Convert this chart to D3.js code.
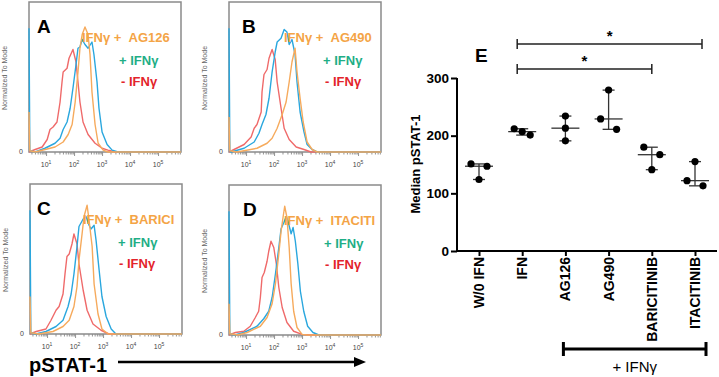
<!DOCTYPE html>
<html><head><meta charset="utf-8">
<script src="https://cdn.jsdelivr.net/npm/d3@7"></script>
<style>
body{margin:0;background:#fff}
svg{display:block}
text{font-family:"Liberation Sans",Arial,Helvetica,sans-serif}
</style>
</head><body>
<svg id="c" width="719" height="377"></svg>
<script>
// ---------- DATA ----------
// Histogram curves: [log10(pSTAT-1 intensity), % of mode]
const histA_red = [[0.39,0],[0.61,2],[0.86,4],[1.04,10],[1.14,18],[1.25,20],[1.39,24],[1.50,40],[1.57,56],[1.61,64],[1.75,67],[1.82,75],[1.96,82],[2.07,72],[2.14,56],[2.21,40],[2.32,24],[2.50,14],[2.75,7],[3.00,3],[3.21,1.5],[3.5,0],[5.82,0]];
const histA_blue = [[0.39,99],[0.42,1],[0.61,0],[0.96,3],[1.32,7],[1.50,11],[1.61,18],[1.75,24],[1.86,35],[1.96,51],[2.07,70],[2.14,83],[2.21,84],[2.29,90],[2.39,86],[2.50,83],[2.64,88],[2.71,78],[2.82,56],[2.89,35],[3.00,16],[3.18,6],[3.36,1.5],[3.57,0],[5.82,0]];
const histA_orange = [[0.39,32],[0.42,1],[0.61,0],[1.32,4],[1.61,8],[1.79,14],[1.93,22],[2.04,40],[2.14,64],[2.21,83],[2.29,94],[2.39,100],[2.50,94],[2.57,78],[2.64,48],[2.75,22],[2.86,7],[3.04,1.5],[3.21,0],[5.82,0]];

const histB_red = [[0.39,0],[0.57,2],[0.93,6],[1.18,12],[1.29,19],[1.39,22],[1.54,32],[1.57,48],[1.64,62],[1.75,66],[1.82,75],[1.93,82],[2.04,74],[2.11,56],[2.25,35],[2.36,19],[2.54,10],[2.79,4],[3.07,2],[3.32,0],[5.82,0]];
const histB_blue = [[0.39,99],[0.42,1],[0.46,0],[0.93,3],[1.29,8],[1.46,15],[1.57,22],[1.71,30],[1.82,43],[1.93,64],[2.04,80],[2.11,88],[2.25,91],[2.36,98],[2.46,96],[2.54,86],[2.64,90],[2.75,78],[2.82,56],[2.93,32],[3.07,16],[3.18,6],[3.36,2],[3.54,0],[5.82,0]];
const histB_orange = [[0.39,28],[0.42,1],[0.68,0],[1.39,3],[1.75,7],[1.93,11],[2.11,19],[2.29,30],[2.43,40],[2.54,56],[2.64,72],[2.75,83],[2.82,64],[2.93,43],[3.04,24],[3.18,8],[3.36,2],[3.54,0],[5.82,0]];

const histC_red = [[0.39,0],[0.61,2],[0.96,4],[1.14,11],[1.32,19],[1.43,22],[1.57,32],[1.64,48],[1.71,62],[1.79,64],[1.89,72],[1.96,80],[2.07,72],[2.14,56],[2.29,35],[2.43,19],[2.64,8],[2.93,3],[3.21,0],[5.82,0]];
const histC_blue = [[0.39,99],[0.42,1],[0.6,0],[0.96,2],[1.32,6],[1.57,11],[1.75,22],[1.86,32],[1.96,48],[2.07,70],[2.14,86],[2.29,92],[2.39,94],[2.50,87],[2.57,84],[2.68,87],[2.75,75],[2.86,51],[2.96,30],[3.11,14],[3.29,4],[3.46,0],[5.82,0]];
const histC_orange = [[0.39,30],[0.42,1],[0.7,0],[1.21,2],[1.57,6],[1.79,11],[1.96,22],[2.07,38],[2.14,59],[2.25,80],[2.32,94],[2.43,103],[2.50,91],[2.61,70],[2.68,40],[2.82,16],[2.96,4],[3.18,0],[5.82,0]];

const histD_red = [[0.39,0],[0.62,2],[0.92,3],[1.15,7],[1.33,14],[1.45,19],[1.51,30],[1.57,46],[1.65,50],[1.75,59],[1.81,67],[1.89,75],[1.99,70],[2.08,57],[2.17,38],[2.29,22],[2.46,10],[2.70,3],[3.00,0.5],[3.3,0],[5.82,0]];
const histD_blue = [[0.39,99],[0.42,1],[0.6,0],[0.92,2],[1.39,7],[1.63,13],[1.81,19],[1.93,30],[2.05,49],[2.17,70],[2.25,85],[2.35,90],[2.44,95],[2.52,89],[2.61,81],[2.68,86],[2.76,75],[2.85,57],[2.94,35],[3.06,19],[3.20,7],[3.39,2],[3.60,0],[5.82,0]];
const histD_orange = [[0.39,25],[0.42,1],[0.7,0],[1.04,2],[1.51,7],[1.75,14],[1.93,25],[2.05,41],[2.17,65],[2.25,83],[2.32,94],[2.38,103],[2.46,94],[2.54,70],[2.61,41],[2.70,19],[2.82,6],[3.00,0.5],[3.2,0],[5.82,0]];

const panelLetters = ["A","B","C","D"];
const panelDrugs = ["AG126","AG490","BARICI","ITACITI"];
const histDecades = [1,2,3,4,5];

// Panel E
const categories = ["W/0 IFN","IFN","AG126","AG490","BARICITINIB","ITACITINIB"];
const groupValues = [[151,147,124],[212,207,201],[234,213,191],[279,229,211],[180,167,141],[155,122,113]];
const groupJitter = [[-1,1,0],[-1,0,1],[0,0,0],[0,-1,1],[-1,1,0],[0,-1,1]];
const yTicksE = [0,100,200,300];
const comparisons = [["IFN","ITACITINIB"],["IFN","BARICITINIB"]];
const treatedGroups = ["AG126","ITACITINIB"];

// ---------- STYLE ----------
const C_RED="#ef6a6a", C_BLUE="#2aa7de", C_ORANGE="#f6aa5c";
const T_ORANGE="#f4a446", T_GREEN="#1fae86", T_RED="#e3242b";

const svg = d3.select("#c");

// ---------- HISTOGRAM PANELS ----------
const layout = [
  {x0:29, y0:2, ld:8, od:53, gd:90, rd:92},
  {x0:229, y0:2, ld:13, od:55, gd:94, rd:96},
  {x0:30, y0:184, ld:7, od:53, gd:88, rd:89},
  {x0:229, y0:185, ld:14, od:55, gd:95, rd:96}
];
const curves = [
  [histA_red,histA_blue,histA_orange],
  [histB_red,histB_blue,histB_orange],
  [histC_red,histC_blue,histC_orange],
  [histD_red,histD_blue,histD_orange]
];
const W=152, H=150;

layout.forEach((L,i)=>{
  const g = svg.append("g");
  const x = d3.scaleLinear().domain([0.39,5.82]).range([L.x0, L.x0+W]);
  const y = d3.scaleLinear().domain([0,120]).range([L.y0+H, L.y0]);
  const tv=[];
  for(let k=0;k<=5;k++) for(let m=1;m<=9;m++){const v=k+Math.log10(m); if(v>=0.42&&v<=5.8) tv.push(v);}
  const ax = g.append("g").attr("transform",`translate(0,${L.y0+H})`)
    .call(d3.axisBottom(x).tickValues(tv).tickSize(3).tickFormat(""));
  ax.select(".domain").remove();
  ax.selectAll(".tick line").attr("stroke","#777").attr("stroke-width",0.8)
    .attr("y2",d=>Math.abs(d-Math.round(d))<1e-9?4:2.5);
  const lab = g.selectAll("text.dec").data(histDecades).join("text").attr("class","dec")
    .attr("x",d=>x(d)).attr("y",L.y0+H+15).attr("text-anchor","middle")
    .attr("font-size",7).attr("fill","#444");
  lab.append("tspan").text("10");
  lab.append("tspan").attr("dy",-3).attr("font-size",5).text(d=>d);
  g.append("rect").attr("x",L.x0).attr("y",L.y0).attr("width",W).attr("height",H)
    .attr("fill","none").attr("stroke","#8a8a8a").attr("stroke-width",1.5);
  const line = d3.line().x(d=>x(d[0])).y(d=>y(d[1]));
  const cols=[C_RED,C_BLUE,C_ORANGE];
  curves[i].forEach((c,j)=>{
    g.append("path").datum(c).attr("d",line).attr("fill","none")
      .attr("stroke",cols[j]).attr("stroke-width",1.4).attr("stroke-linejoin","round");
  });
  g.append("text").attr("transform",`translate(${L.x0-22},${L.y0+76}) rotate(-90)`)
    .attr("text-anchor","middle").attr("font-size",7).attr("fill","#666").text("Normalized To Mode");
  g.append("text").attr("x",L.x0-6).attr("y",L.y0+H+2).attr("text-anchor","end")
    .attr("font-size",7).attr("fill","#444").text("0");
  g.append("text").attr("x",L.x0+L.ld).attr("y",L.y0+31).attr("font-size",19)
    .attr("font-weight","bold").attr("fill","#000").text(panelLetters[i]);
  g.append("text").attr("x",L.x0+L.od).attr("y",L.y0+40).attr("font-size",13)
    .attr("font-weight","bold").attr("fill",T_ORANGE).style("white-space","pre")
    .text("IFNγ +  "+panelDrugs[i]);
  g.append("text").attr("x",L.x0+L.gd).attr("y",L.y0+63).attr("font-size",13)
    .attr("font-weight","bold").attr("fill",T_GREEN).text("+ IFNγ");
  g.append("text").attr("x",L.x0+L.rd).attr("y",L.y0+84).attr("font-size",13)
    .attr("font-weight","bold").attr("fill",T_RED).text("- IFNγ");
});

// pSTAT-1 arrow
svg.append("text").attr("x",29).attr("y",372).attr("font-size",20).attr("font-weight","bold").text("pSTAT-1");
svg.append("line").attr("x1",118).attr("x2",356).attr("y1",362).attr("y2",362)
  .attr("stroke","#000").attr("stroke-width",2.5);
svg.append("path").attr("d","M354,357 L366,362 L354,367 Z").attr("fill","#000");

// ---------- PANEL E ----------
const ex = d3.scalePoint().domain(categories).range([479,695]);
const ey = d3.scaleLinear().domain([0,300]).range([251,78]);
const gE = svg.append("g");

const yAx = gE.append("g").attr("transform","translate(457,0)")
  .call(d3.axisLeft(ey).tickValues(yTicksE).tickSize(6).tickPadding(2));
yAx.select(".domain").attr("stroke","#000").attr("stroke-width",2).attr("d","M0,78V251");
yAx.selectAll(".tick line").attr("stroke","#000").attr("stroke-width",2);
yAx.selectAll(".tick text").attr("font-size",13.5).attr("font-weight","bold").attr("fill","#000")
  .style("font-family","'Liberation Sans',Arial,sans-serif");

const xAx = gE.append("g").attr("transform","translate(0,251)")
  .call(d3.axisBottom(ex).tickSize(5).tickFormat(""));
xAx.select(".domain").attr("stroke","#000").attr("stroke-width",2).attr("d",`M457,0H${ex(categories[categories.length-1])+22}`);
xAx.selectAll(".tick line").attr("stroke","#000").attr("stroke-width",2);
gE.selectAll("text.cat").data(categories).join("text").attr("class","cat")
  .attr("transform",d=>`translate(${ex(d)+5},257) rotate(-90)`)
  .attr("text-anchor","end").attr("font-size",14).attr("font-weight","bold").text(d=>d);

gE.append("text").attr("transform","translate(420,164) rotate(-90)").attr("text-anchor","middle")
  .attr("font-size",13).attr("font-weight","bold").text("Median pSTAT-1");

gE.append("text").attr("x",475).attr("y",62).attr("font-size",19).attr("font-weight","bold").text("E");

const J = 8;
categories.forEach((c,i)=>{
  const vals = groupValues[i];
  const med = d3.median(vals), [mn,mx] = d3.extent(vals);
  const cx = ex(c);
  gE.append("line").attr("x1",cx).attr("x2",cx).attr("y1",ey(mn)).attr("y2",ey(mx))
    .attr("stroke","#333").attr("stroke-width",1.3);
  gE.append("line").attr("x1",cx-14).attr("x2",cx+14).attr("y1",ey(med)).attr("y2",ey(med))
    .attr("stroke","#333").attr("stroke-width",1.3);
  [mn,mx].forEach(v=>gE.append("line").attr("x1",cx-6).attr("x2",cx+6).attr("y1",ey(v)).attr("y2",ey(v))
    .attr("stroke","#333").attr("stroke-width",1.3));
  vals.forEach((v,k)=>{
    gE.append("circle").attr("cx",cx+groupJitter[i][k]*J).attr("cy",ey(v)).attr("r",3.6).attr("fill","#000");
  });
});

const bracketY = [44,69];
comparisons.forEach((cp,i)=>{
  const x1 = ex(cp[0])-5, x2 = ex(cp[1]) + (cp[1]==="ITACITINIB"?7:0);
  const yb = bracketY[i];
  gE.append("path").attr("d",`M${x1},${yb-5}V${yb+5}M${x1},${yb}H${x2}M${x2},${yb-5}V${yb+5}`)
    .attr("fill","none").attr("stroke","#222").attr("stroke-width",1.5);
  gE.append("text").attr("x",(x1+x2)/2).attr("y",yb-3).attr("text-anchor","middle")
    .attr("font-size",15).attr("font-weight","bold").text("*");
});

const bx1 = ex(treatedGroups[0])-2, bx2 = ex(treatedGroups[1])+11;
gE.append("path").attr("d",`M${bx1},342V356M${bx1},349H${bx2}M${bx2},342V356`)
  .attr("fill","none").attr("stroke","#000").attr("stroke-width",3);
gE.append("text").attr("x",(bx1+bx2)/2).attr("y",372).attr("text-anchor","middle")
  .attr("font-size",15).text("+ IFNγ");
</script>
</body></html>
